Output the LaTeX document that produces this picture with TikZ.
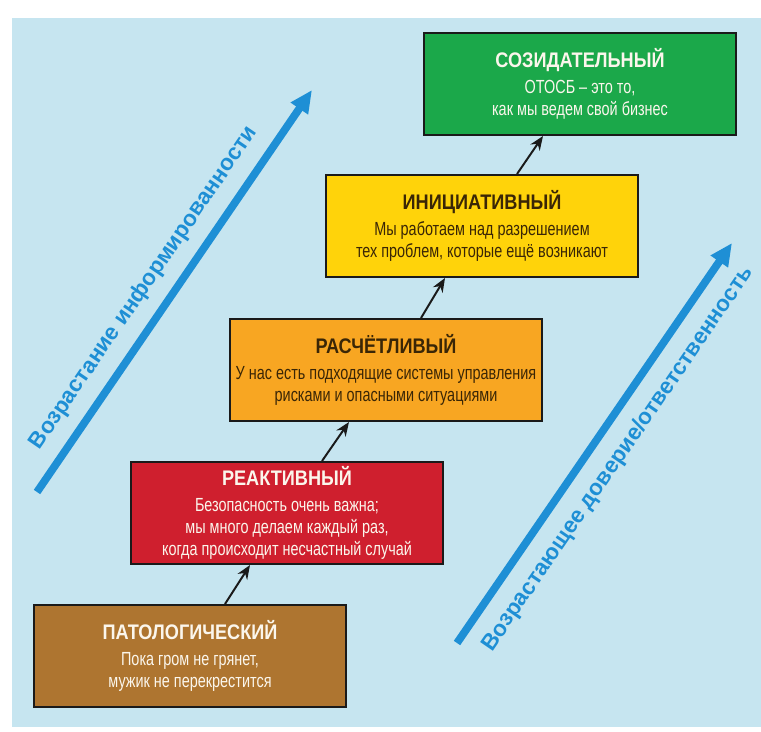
\documentclass[tikz,border=0pt]{standalone}
\usepackage{fontspec}
\setmainfont{Liberation Sans}
\newfontfamily\lvlheadfont[FakeStretch=0.86]{Liberation Sans}
\newfontfamily\lvlbodyfont[FakeStretch=0.76]{Liberation Sans}
\usetikzlibrary{arrows.meta,positioning,calc}
\usepackage{xcolor}
\definecolor{skyBg}{HTML}{C6E5F0}
\definecolor{growBlue}{HTML}{1E8FD5}
\definecolor{lvInk}{HTML}{1A1A1A}
\definecolor{lvGreen}{HTML}{1BA84A}
\definecolor{lvYellow}{HTML}{FFD30A}
\definecolor{lvOrange}{HTML}{F8A622}
\definecolor{lvRed}{HTML}{CF1F2E}
\definecolor{lvBrown}{HTML}{AE7530}
\definecolor{lvDark}{HTML}{3A2606}
\definecolor{lvLight}{HTML}{FBF6EC}
\newcommand{\lvlhead}[1]{{\lvlheadfont\bfseries\fontsize{15}{18}\selectfont #1}\\[3pt]}
\tikzset{
  lvl/.style={draw=lvInk, line width=1.4pt, minimum width=7.8cm, minimum height=2.55cm, inner sep=2pt, align=center, font=\lvlbodyfont\fontsize{13.5}{15.5}\selectfont},
  lvlG/.style={lvl, fill=lvGreen, text=lvLight},
  lvlY/.style={lvl, fill=lvYellow, text=lvDark},
  lvlO/.style={lvl, fill=lvOrange, text=lvDark},
  lvlR/.style={lvl, fill=lvRed, text=lvLight},
  lvlB/.style={lvl, fill=lvBrown, text=lvLight},
  stepArr/.style={-{Stealth[length=10pt, width=8pt]}, line width=1.4pt, draw=lvInk},
  growArr/.style={-{Triangle[length=16pt, width=14pt]}, line width=5.5pt, draw=growBlue},
  growLbl/.style={font=\bfseries\fontsize{16}{19}\selectfont, text=growBlue, inner sep=2pt},
}
\begin{document}
\begin{tikzpicture}[x=0.025cm, y=-0.025cm]
  \useasboundingbox (0,0) rectangle (761,731);
  \fill[skyBg] (12,18) rectangle (761,727);
  % levels, bottom to top
  \node[lvlB] (pat) at (190,656) {\lvlhead{ПАТОЛОГИЧЕСКИЙ}Пока гром не грянет,\\мужик не перекрестится};
  \node[lvlR] (rea) at (287,513) {\lvlhead{РЕАКТИВНЫЙ}Безопасность очень важна;\\мы много делаем каждый раз,\\когда происходит несчастный случай};
  \node[lvlO] (ras) at (386,370) {\lvlhead{РАСЧЁТЛИВЫЙ}У нас есть подходящие системы управления\\рисками и опасными ситуациями};
  \node[lvlY] (ini) at (482,226) {\lvlhead{ИНИЦИАТИВНЫЙ}Мы работаем над разрешением\\тех проблем, которые ещё возникают};
  \node[lvlG] (soz) at (580,84) {\lvlhead{СОЗИДАТЕЛЬНЫЙ}ОТОСБ – это то,\\как мы ведем свой бизнес};
  \draw[stepArr] ($(pat.north)+(35,0)$) -- ($(rea.south)+(-37,0)$);
  \draw[stepArr] ($(rea.north)+(35,0)$) -- ($(ras.south)+(-37,0)$);
  \draw[stepArr] ($(ras.north)+(35,0)$) -- ($(ini.south)+(-37,0)$);
  \draw[stepArr] ($(ini.north)+(35,0)$) -- ($(soz.south)+(-37,0)$);
  % growth arrows
  \coordinate (infoS) at (37,492);
  \coordinate (infoE) at (312,90);
  \coordinate (trustS) at (457,643);
  \coordinate (trustE) at (732,243);
  \draw[growArr] (infoS) -- node[growLbl, sloped, pos=0.47, above=7pt] {Возрастание информированности} (infoE);
  \draw[growArr] (trustS) -- node[growLbl, sloped, pos=0.5, below=8pt] {Возрастающее доверие/ответственность} (trustE);
\end{tikzpicture}
\end{document}
